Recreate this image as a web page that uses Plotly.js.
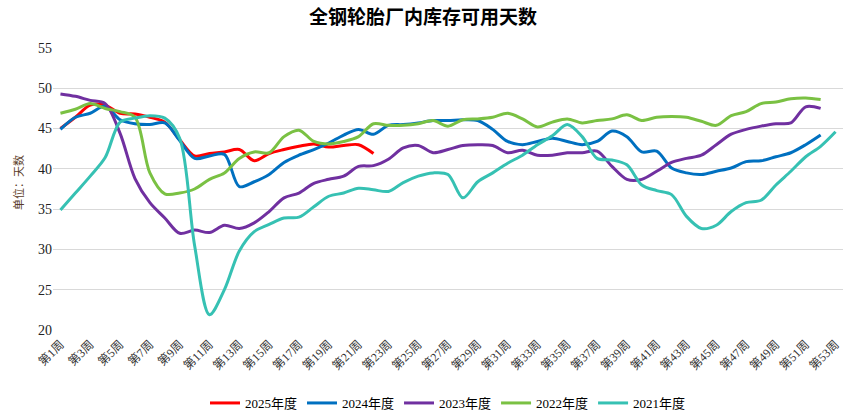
<!DOCTYPE html>
<html>
<head>
<meta charset="utf-8">
<script src="https://cdn.plot.ly/plotly-3.0.1.min.js"></script>
<style>html,body{margin:0;padding:0;background:#fff;}#chart{width:846px;height:419px;}</style>
</head>
<body>
<div id="chart"></div>
<script>
const weeks = [];
for (let i = 1; i <= 53; i++) weeks.push('第' + i + '周');
const tickWeeks = weeks.filter((w, i) => i % 2 === 0);

const y2025 = [45.0,46.4,47.9,47.9,46.9,46.8,46.4,45.8,43.6,41.6,41.9,42.1,42.4,41.0,41.9,42.4,42.8,43.1,42.7,42.9,43.0,41.9];
const y2024 = [44.9,46.4,46.9,47.8,46.1,45.6,45.5,45.7,43.5,41.3,41.6,41.8,37.8,38.4,39.3,40.8,41.7,42.4,43.2,44.2,44.9,44.3,45.4,45.5,45.7,46.0,46.0,46.1,46.0,44.9,43.4,43.0,43.4,43.8,43.4,43.0,43.4,44.7,44.0,42.1,42.2,40.1,39.5,39.3,39.7,40.1,40.9,41.0,41.5,42.0,43.0,44.2];
const y2023 = [49.3,49.0,48.5,48.1,44.4,38.8,35.8,33.9,32.0,32.4,32.1,33.0,32.6,33.3,34.7,36.4,37.0,38.2,38.7,39.1,40.3,40.4,41.2,42.6,42.9,42.0,42.4,42.9,43.0,42.9,42.0,42.3,41.7,41.7,42.0,42.0,42.2,40.3,38.7,38.7,39.7,40.8,41.3,41.7,43.0,44.3,44.9,45.3,45.6,45.7,47.7,47.5];
const y2022 = [46.9,47.4,48.1,47.5,47.1,46.4,39.5,36.9,37.0,37.5,38.7,39.5,41.3,42.1,42.0,44.0,44.8,43.4,43.1,43.4,44.0,45.6,45.4,45.4,45.6,46.0,45.3,46.1,46.2,46.4,46.9,46.2,45.2,45.8,46.2,45.7,46.0,46.2,46.7,46.0,46.4,46.5,46.4,45.9,45.4,46.6,47.1,48.1,48.3,48.7,48.8,48.6];
const y2021 = [34.9,37.0,39.1,41.4,45.8,46.3,46.6,46.3,43.8,30.5,21.9,25.0,29.8,32.2,33.1,33.9,34.0,35.3,36.6,37.0,37.6,37.4,37.2,38.3,39.1,39.5,39.3,36.4,38.4,39.5,40.7,41.7,43.0,44.1,45.5,44.0,41.3,41.1,40.5,38.0,37.3,36.8,34.1,32.6,33.0,34.7,35.8,36.1,38.0,39.7,41.5,42.8,44.6];

const seriesNames = ['2025年度','2024年度','2023年度','2022年度','2021年度'];
const seriesData = [y2025, y2024, y2023, y2022, y2021];
const seriesColors = ['#FF0000','#0070C0','#7030A0','#7AC143','#36C1B3'];

const serif = 'Liberation Serif, Noto Sans CJK SC, serif';

const traces = seriesData.map((d, k) => ({
  type: 'scatter',
  mode: 'lines',
  name: seriesNames[k],
  x: weeks.slice(0, d.length),
  y: d,
  line: {color: seriesColors[k], width: 3, shape: 'spline', smoothing: 0.9},
  hoverinfo: 'skip'
}));

const layout = {
  width: 846, height: 419,
  paper_bgcolor: '#fff', plot_bgcolor: '#fff',
  margin: {l: 53, r: 3, t: 48, b: 89},
  title: {
    text: '<b>全钢轮胎厂内库存可用天数</b>',
    font: {family: 'Noto Sans CJK SC, serif', size: 19, color: '#000'},
    x: 0.5, xanchor: 'center', y: 1 - 17/419, yref: 'container', yanchor: 'middle'
  },
  xaxis: {
    type: 'category',
    categoryorder: 'array', categoryarray: weeks,
    range: [-0.5, 52.5],
    tickvals: tickWeeks, ticktext: tickWeeks,
    tickangle: -45,
    ticklabelstandoff: 4,
    tickfont: {family: serif, size: 12, color: '#333'},
    showgrid: false, zeroline: false, showline: false, ticks: ''
  },
  yaxis: {
    range: [20, 55], dtick: 5, tick0: 20,
    tickfont: {family: serif, size: 14, color: '#222'},
    gridcolor: '#d9d9d9', gridwidth: 1,
    zeroline: false, showline: false, ticks: ''
  },
  showlegend: true,
  legend: {
    orientation: 'h', x: 0.5, xanchor: 'center',
    yref: 'container', y: 16/419, yanchor: 'middle',
    font: {family: serif, size: 13, color: '#000'},
    itemwidth: 30
  },
  annotations: [{
    text: '单位：天数', textangle: -90,
    xref: 'paper', yref: 'paper',
    x: (18 - 53) / 790, y: 1 - (183 - 48) / 282,
    xanchor: 'center', yanchor: 'middle', showarrow: false,
    font: {family: 'Noto Sans CJK SC, serif', size: 11, color: '#5a3c28'}
  }]
};

Plotly.newPlot('chart', traces, layout, {staticPlot: true, displayModeBar: false});
</script>
</body>
</html>
